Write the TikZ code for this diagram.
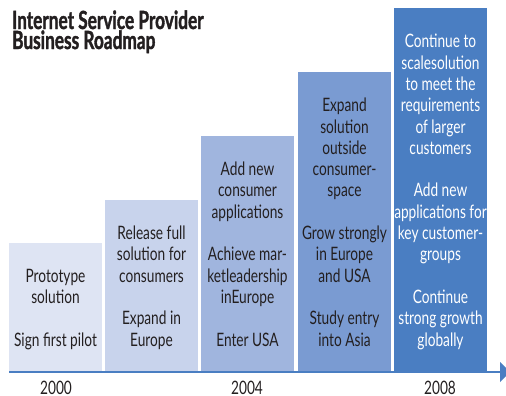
\documentclass[tikz,border=0pt]{standalone}
\usepackage{fontspec}
\setmainfont{Lato}[FakeStretch=0.74]
\newfontfamily\titlefont{Lato}[FakeStretch=0.69, BoldFeatures={FakeBold=1.4}]
\usetikzlibrary{arrows.meta}

\definecolor{inkdark}{HTML}{231F20}
\definecolor{stageA}{HTML}{DEE4F3}
\definecolor{stageB}{HTML}{C8D3EC}
\definecolor{stageC}{HTML}{A0B5DE}
\definecolor{stageD}{HTML}{7A9BD2}
\definecolor{stageE}{HTML}{4A7EC2}
\definecolor{axisblue}{HTML}{4A7EC2}

\tikzset{
  stagebox/.style={draw=none, inner sep=0pt, anchor=north west,
    minimum width=93pt},
  % base anchor of a multi-line node sits on its last baseline
  stagetext/.style={inner sep=0pt, anchor=base, align=center, text=inkdark,
    font=\fontsize{18.5}{21.3}\selectfont},
  yearlabel/.style={inner sep=0pt, anchor=base, text=inkdark,
    font=\fontsize{18.5}{21.3}\selectfont},
  timeline/.style={draw=axisblue, line width=1.5pt,
    -{Triangle[length=10pt,width=20pt]}},
}

\begin{document}
\begin{tikzpicture}[x=1pt, y=-1pt]
  \useasboundingbox (0,0) rectangle (506,396);

  % heading
  \node[inner sep=0pt, anchor=base west, align=left, text=inkdark,
        font=\titlefont\bfseries\fontsize{25}{20}\selectfont] (title) at (12,49)
    {Internet Service Provider\\Business Roadmap};

  % stepped stages, bottom edge on the timeline
  \node[stagebox, fill=stageA, minimum height=128pt] (s1) at (9,243) {};
  \node[stagebox, fill=stageB, minimum height=171pt] (s2) at (105,200) {};
  \node[stagebox, fill=stageC, minimum height=235pt] (s3) at (201,136) {};
  \node[stagebox, fill=stageD, minimum height=299pt] (s4) at (298,72) {};
  \node[stagebox, fill=stageE, minimum height=363pt] (s5) at (394,8) {};

  % stage contents, all ending on one common baseline
  \node[stagetext] (t1) at (55.5,346)
    {Prototype\\solution\\[21.3pt]Sign first pilot};
  \node[stagetext] (t2) at (151.5,346)
    {Release full\\solution for\\consumers\\[21.3pt]Expand in\\Europe};
  \node[stagetext] (t3) at (247.5,346)
    {Add new\\consumer\\applications\\[21.3pt]Achieve mar-\\ketleadership\\inEurope\\[21.3pt]Enter USA};
  \node[stagetext] (t4) at (344.5,346)
    {Expand\\solution\\outside\\consumer-\\space\\[21.3pt]Grow strongly\\in Europe\\and USA\\[21.3pt]Study entry\\into Asia};
  \node[stagetext, text=white] (t5) at (440.5,346)
    {Continue to\\scalesolution\\to meet the\\requirements\\of larger\\customers\\[21.3pt]Add new\\applications for\\key customer-\\groups\\[21.3pt]Continue\\strong growth\\globally};

  % time axis
  \coordinate (axisstart) at (9,372);
  \coordinate (axisend) at (510,372);
  \draw[timeline] (axisstart) -- (axisend);

  \node[yearlabel] (y2000) at (56,394) {2000};
  \node[yearlabel] (y2004) at (247,394) {2004};
  \node[yearlabel] (y2008) at (440,394) {2008};
\end{tikzpicture}
\end{document}
